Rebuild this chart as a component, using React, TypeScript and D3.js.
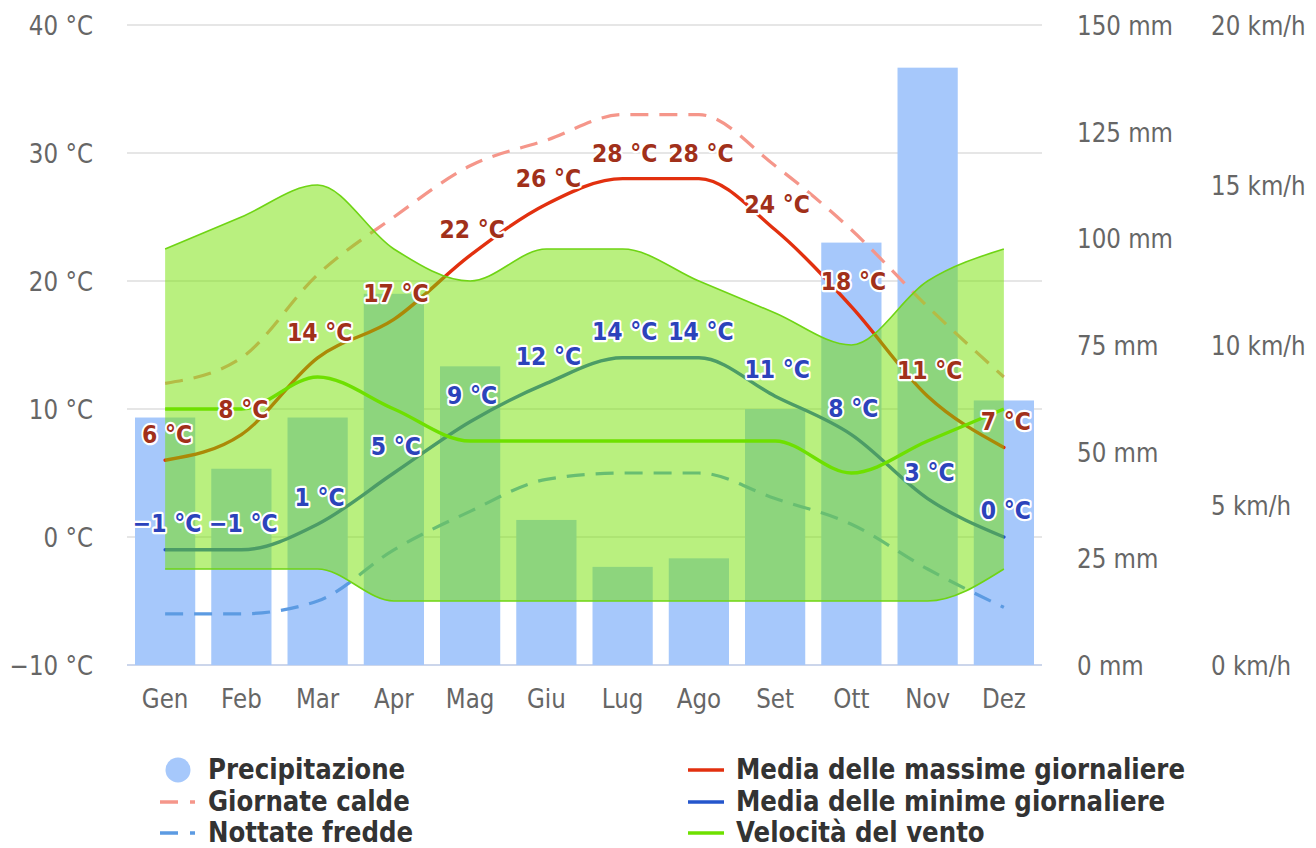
import React from "react";
import * as d3 from "d3";

const months = ["Gen", "Feb", "Mar", "Apr", "Mag", "Giu", "Lug", "Ago", "Set", "Ott", "Nov", "Dez"];
const precipitation = [58, 46, 58, 87, 70, 34, 23, 25, 60, 99, 140, 62];
const tempMax = [6, 8, 14, 17, 22, 26, 28, 28, 24, 18, 11, 7];
const tempMin = [-1, -1, 1, 5, 9, 12, 14, 14, 11, 8, 3, 0];
const hotDays = [12, 14, 20.5, 25, 29, 31, 33, 33, 29, 24, 18, 12.5];
const coldNights = [-6, -6, -5, -1, 2, 4.5, 5, 5, 3, 1, -2.5, -5.5];
const windMean = [8, 8, 9, 8, 7, 7, 7, 7, 7, 6, 7, 8];
const windHigh = [13, 14, 15, 13, 12, 13, 13, 12, 11, 10, 12, 13];
const windLow = [3, 3, 3, 2, 2, 2, 2, 2, 2, 2, 2, 3];
const tempTicks = [-10, 0, 10, 20, 30, 40];
const precipTicks = [0, 25, 50, 75, 100, 125, 150];
const windTicks = [0, 5, 10, 15, 20];

const FONT = "'DejaVu Sans', 'Lucida Grande', sans-serif";
const SY = 1.13;

const C = {
  bar: "#a6c8fb",
  max: "#e2300f",
  min: "#2456cc",
  hot: "#f5968a",
  cold: "#5c9be2",
  windFill: "rgb(115,225,0)",
  windEdge: "#6fd414",
  windLine: "#6ee000",
  maxLabel: "#a1301a",
  minLabel: "#2c43bb",
  grid: "#e6e6e6",
  axisText: "#666666",
  legendText: "#333333",
};

function T(props: {
  x: number;
  y: number;
  anchor?: "start" | "middle" | "end";
  fill: string;
  style: React.CSSProperties;
  children: React.ReactNode;
}) {
  return (
    <text
      transform={`translate(${props.x},${props.y}) scale(1,${SY})`}
      textAnchor={props.anchor || "start"}
      fill={props.fill}
      style={props.style}
    >
      {props.children}
    </text>
  );
}

export default function App() {
  const left = 127;
  const right = 1042;
  const top = 25;
  const bottom = 665;

  const x = d3
    .scaleBand<string>()
    .domain(months)
    .range([left, right])
    .paddingInner(0.21)
    .paddingOuter(0.105);
  const cx = (i: number) => (x(months[i]) as number) + x.bandwidth() / 2;

  const yT = d3.scaleLinear().domain([-10, 40]).range([bottom, top]);
  const yP = d3.scaleLinear().domain([0, 150]).range([bottom, top]);
  const yW = d3.scaleLinear().domain([0, 20]).range([bottom, top]);

  const lineT = d3
    .line<number>()
    .x((_, i) => cx(i))
    .y((d) => yT(d))
    .curve(d3.curveMonotoneX);
  const lineW = d3
    .line<number>()
    .x((_, i) => cx(i))
    .y((d) => yW(d))
    .curve(d3.curveMonotoneX);
  const areaW = d3
    .area<number>()
    .x((_, i) => cx(i))
    .y0((_, i) => yW(windLow[i]))
    .y1((_, i) => yW(windHigh[i]))
    .curve(d3.curveMonotoneX);

  const labelStyle: React.CSSProperties = {
    fontFamily: FONT,
    fontSize: 22,
    fontWeight: 700,
    stroke: "#ffffff",
    strokeWidth: 4,
    strokeLinejoin: "round",
    paintOrder: "stroke",
  };
  const axisStyle: React.CSSProperties = { fontFamily: FONT, fontSize: 23 };
  const legendStyle: React.CSSProperties = { fontFamily: FONT, fontSize: 24.5, fontWeight: 700 };

  const fmt = (v: number) => (v < 0 ? "\u2212" + Math.abs(v) : String(v)) + " °C";

  const legendLeft = [
    { name: "Precipitazione", type: "circle", color: C.bar },
    { name: "Giornate calde", type: "dash", color: C.hot },
    { name: "Nottate fredde", type: "dash", color: C.cold },
  ];
  const legendRight = [
    { name: "Media delle massime giornaliere", color: C.max },
    { name: "Media delle minime giornaliere", color: C.min },
    { name: "Velocità del vento", color: C.windLine },
  ];
  const legendRows = [770, 802, 833];

  return (
    <svg
      width={1316}
      height={848}
      style={{ position: "absolute", left: 0, top: 0, background: "#fff" }}
    >
      {/* grid */}
      {tempTicks.map((t) => (
        <line
          key={"g" + t}
          x1={left}
          x2={right}
          y1={yT(t)}
          y2={yT(t)}
          stroke={t === -10 ? "#ccd6eb" : C.grid}
          strokeWidth={2}
        />
      ))}

      {/* bars */}
      {precipitation.map((p, i) => (
        <rect
          key={"b" + i}
          x={x(months[i])}
          width={x.bandwidth()}
          y={yP(p)}
          height={yP(0) - yP(p)}
          fill={C.bar}
        />
      ))}

      {/* temperature lines */}
      <path d={lineT(hotDays) || ""} fill="none" stroke={C.hot} strokeWidth={3.2} strokeDasharray="18 11" />
      <path d={lineT(coldNights) || ""} fill="none" stroke={C.cold} strokeWidth={3.2} strokeDasharray="18 11" />
      <path d={lineT(tempMax) || ""} fill="none" stroke={C.max} strokeWidth={3.4} strokeLinecap="round" />
      <path d={lineT(tempMin) || ""} fill="none" stroke={C.min} strokeWidth={3.4} strokeLinecap="round" />

      {/* wind range */}
      <path d={areaW(windHigh) || ""} fill={C.windFill} fillOpacity={0.5} stroke="none" />
      <path d={lineW(windHigh) || ""} fill="none" stroke={C.windEdge} strokeWidth={1.6} />
      <path d={lineW(windLow) || ""} fill="none" stroke={C.windEdge} strokeWidth={1.6} />
      <path d={lineW(windMean) || ""} fill="none" stroke={C.windLine} strokeWidth={3.4} />

      {/* data labels */}
      {tempMax.map((v, i) => (
        <T key={"lm" + i} x={cx(i) + 2} y={yT(v) - 17} anchor="middle" fill={C.maxLabel} style={labelStyle}>
          {fmt(v)}
        </T>
      ))}
      {tempMin.map((v, i) => (
        <T key={"ln" + i} x={cx(i) + 2} y={yT(v) - 18} anchor="middle" fill={C.minLabel} style={labelStyle}>
          {fmt(v)}
        </T>
      ))}

      {/* left axis labels */}
      {tempTicks.map((t) => (
        <T key={"tl" + t} x={93} y={yT(t) + 9.5} anchor="end" fill={C.axisText} style={axisStyle}>
          {fmt(t)}
        </T>
      ))}

      {/* precipitation axis labels */}
      {precipTicks.map((t) => (
        <T key={"pl" + t} x={1077} y={yP(t) + 10} fill={C.axisText} style={axisStyle}>
          {t + " mm"}
        </T>
      ))}

      {/* wind axis labels */}
      {windTicks.map((t) => (
        <T key={"wl" + t} x={1211} y={yW(t) + 10} fill={C.axisText} style={axisStyle}>
          {t + " km/h"}
        </T>
      ))}

      {/* x axis labels */}
      {months.map((m, i) => (
        <T key={"xl" + m} x={cx(i)} y={708} anchor="middle" fill={C.axisText} style={axisStyle}>
          {m}
        </T>
      ))}

      {/* legend */}
      {legendLeft.map((l, i) => (
        <g key={"leg" + i}>
          {l.type === "circle" ? (
            <circle cx={178} cy={legendRows[i]} r={12.5} fill={l.color} />
          ) : (
            <line
              x1={160}
              x2={195}
              y1={legendRows[i]}
              y2={legendRows[i]}
              stroke={l.color}
              strokeWidth={3.4}
              strokeDasharray="18 12"
            />
          )}
          <T x={208} y={legendRows[i] + 8.5} fill={C.legendText} style={legendStyle}>
            {l.name}
          </T>
        </g>
      ))}
      {legendRight.map((l, i) => (
        <g key={"legr" + i}>
          <line x1={688} x2={724} y1={legendRows[i]} y2={legendRows[i]} stroke={l.color} strokeWidth={3.4} />
          <T x={736} y={legendRows[i] + 8.5} fill={C.legendText} style={legendStyle}>
            {l.name}
          </T>
        </g>
      ))}
    </svg>
  );
}
